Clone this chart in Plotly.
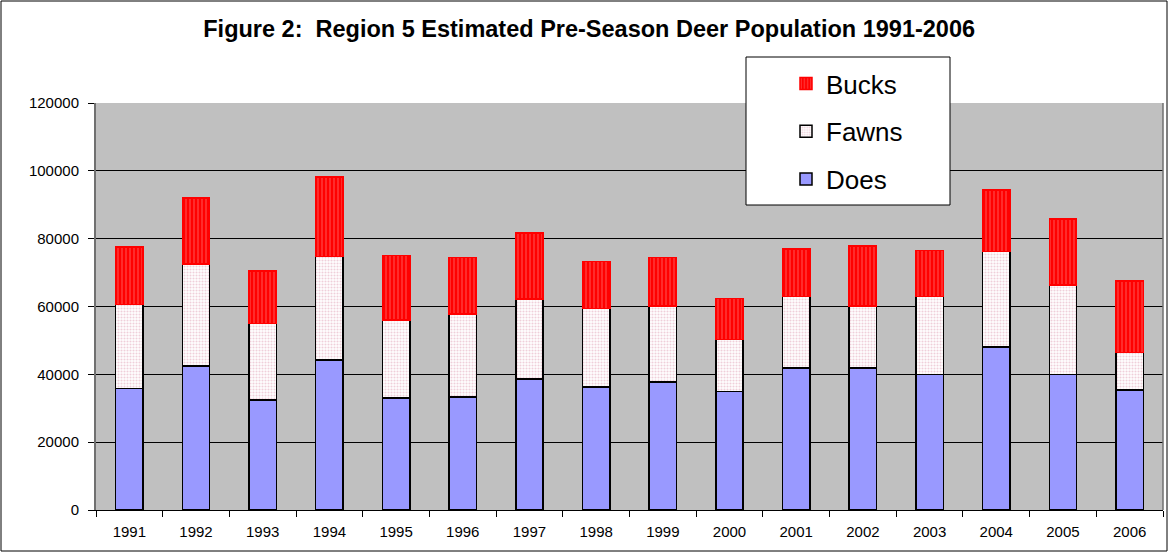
import plotly.graph_objects as go

years = [str(y) for y in range(1991, 2007)]
does = [35800, 42400, 32500, 44200, 33000, 33300, 38600, 36300, 37700, 34900, 41900, 41900, 40000, 48100, 40000, 35400]
fawns = [24800, 30100, 22500, 30600, 23000, 24500, 23600, 23100, 22500, 15300, 21000, 18300, 23000, 28100, 26300, 11000]
bucks = [16900, 19500, 15400, 23400, 19000, 16700, 19500, 13800, 14300, 12100, 14000, 17600, 13500, 18200, 19500, 21100]
y_ticks = [0, 20000, 40000, 60000, 80000, 100000, 120000]

W, H = 1169, 553
L, R, T, B = 96, 6, 103, 43
pw, ph = W - L - R, H - T - B

def px_x(x):
    return (x - L) / pw

def px_y(y):
    return (H - B - y) / ph

fig = go.Figure()
fig.add_trace(go.Bar(
    x=years, y=does, name="Does", legendgroup="d", legendrank=3,
    marker=dict(color="#9999FF", line=dict(color="#000000", width=1.5)),
))
fig.add_trace(go.Bar(
    x=years, y=fawns, name="Fawns", legendgroup="f", legendrank=2,
    marker=dict(color="#FFFFFF", line=dict(color="#000000", width=1.5),
                pattern=dict(shape=".", bgcolor="#FFFFFF", fgcolor="#E0A0B4", size=3, solidity=0.4)),
))
fig.add_trace(go.Bar(
    x=years, y=bucks, name="Bucks", legendgroup="b", legendrank=1,
    marker=dict(color="#FF0000", line=dict(color="#FF0000", width=1.5),
                pattern=dict(shape="|", bgcolor="#FF0000", fgcolor="#FF6A6A", size=4, solidity=0.4)),
))

shapes = [
    dict(type="rect", xref="paper", yref="paper",
         x0=px_x(1), x1=px_x(1167), y0=px_y(551), y1=px_y(1),
         line=dict(color="#000000", width=1), fillcolor="rgba(0,0,0,0)", layer="below"),
    dict(type="rect", xref="paper", yref="paper",
         x0=px_x(746), x1=px_x(950), y0=px_y(205), y1=px_y(57),
         line=dict(color="#000000", width=1), fillcolor="#FFFFFF", layer="above"),
    dict(type="line", xref="paper", yref="paper", x0=1, x1=1, y0=0, y1=1,
         line=dict(color="#707070", width=1.5)),
]

fig.update_layout(
    width=W, height=H,
    margin=dict(l=L, r=R, t=T, b=B, pad=0),
    barmode="stack", bargap=0.59,
    paper_bgcolor="#FFFFFF", plot_bgcolor="#C0C0C0",
    font=dict(family="Liberation Sans, Arial, sans-serif", color="#000000", size=15),
    title=dict(text="<b>Figure 2:  Region 5 Estimated Pre-Season Deer Population 1991-2006</b>",
               x=0.504, xanchor="center", xref="container", y=1 - 29 / H, yanchor="middle",
               yref="container", font=dict(size=23.5)),
    legend=dict(x=px_x(786), y=px_y(60), xanchor="left", yanchor="top",
                traceorder="grouped", tracegroupgap=11,
                bgcolor="rgba(0,0,0,0)", borderwidth=0,
                font=dict(size=26), itemwidth=30),
    shapes=shapes,
    xaxis=dict(showgrid=False, ticks="outside", tickson="boundaries", ticklen=6,
               tickcolor="#000000", showline=True, linecolor="#000000", linewidth=1,
               tickfont=dict(size=15), ticklabelstandoff=8),
    yaxis=dict(range=[0, 120000], tickvals=y_ticks, tickformat="d", ticks="outside", ticklen=6,
               tickcolor="#000000", showgrid=True, gridcolor="#000000", gridwidth=1,
               showline=True, linecolor="#707070", linewidth=2, zeroline=False,
               tickfont=dict(size=15), ticklabelstandoff=6),
)

fig.write_html("out.html", config={"displayModeBar": False},
               post_script="document.body.style.margin='0px';document.body.style.overflow='hidden';")
